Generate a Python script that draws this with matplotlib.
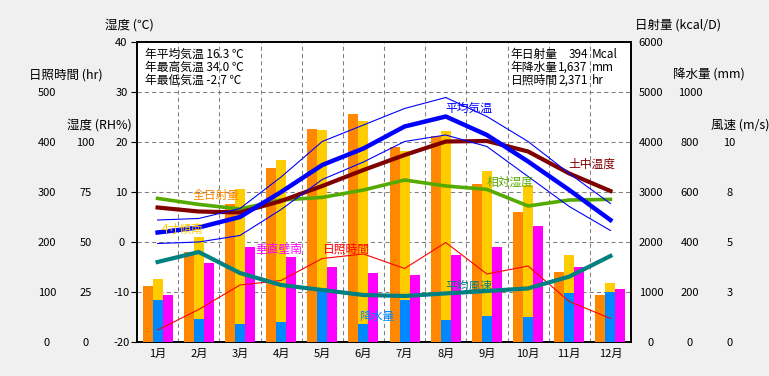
import matplotlib
matplotlib.use("Agg")
import matplotlib.pyplot as plt
import numpy as np

plt.rcParams['font.family'] = ['Noto Sans CJK JP', 'DejaVu Sans']

months = ["1月", "2月", "3月", "4月", "5月", "6月", "7月", "8月", "9月", "10月", "11月", "12月"]

# 日射量 (kcal/D)
solar_total = [1120, 1800, 2760, 3480, 4260, 4560, 3900, 4120, 3160, 2600, 1400, 940]   # 全日射量
solar_tilt = [1270, 2100, 3060, 3640, 4240, 4420, 3820, 4220, 3420, 3140, 1740, 1180]   # 4寸傾南
solar_wall = [940, 1580, 1900, 1700, 1500, 1380, 1340, 1740, 1900, 2320, 1500, 1060]     # 垂直壁南
# 降水量 (mm)
precip = [168, 92, 72, 80, 216, 72, 168, 88, 104, 100, 196, 200]
# 気温 (℃)
temp_avg = [1.9, 2.9, 5.0, 10.0, 15.4, 18.7, 23.1, 25.1, 21.4, 16.1, 10.4, 4.4]
temp_max = [4.4, 4.7, 6.7, 13.0, 20.1, 23.4, 26.7, 28.9, 25.1, 20.1, 13.7, 7.7]
temp_min = [-0.3, 0.0, 1.3, 6.5, 12.5, 16.0, 20.1, 21.4, 19.1, 13.1, 7.1, 2.3]
soil_temp = [6.9, 6.1, 5.9, 8.2, 11.2, 14.4, 17.4, 20.1, 20.2, 18.1, 13.7, 10.2]
# 相対湿度 (%)
humidity = [71.8, 68.8, 66.5, 71.0, 72.3, 76.0, 81.0, 78.0, 76.3, 68.0, 71.0, 71.3]
# 日照時間 (hr)
sunshine = [24, 65, 114, 123, 167, 176, 147, 199, 136, 152, 81, 47]
# 平均風速 (m/s)
wind = [4.0, 4.5, 3.45, 2.85, 2.6, 2.35, 2.3, 2.43, 2.55, 2.68, 3.27, 4.3]

temp_ticks = [-20, -10, 0, 10, 20, 30, 40]
hum_ticks = [0, 25, 50, 75, 100]
sun_ticks = [0, 100, 200, 300, 400, 500]
sol_ticks = [0, 1000, 2000, 3000, 4000, 5000, 6000]
pre_ticks = [0, 200, 400, 600, 800, 1000]
wind_ticks = [0, 2.5, 5, 7.5, 10]
wind_labels = ["0", "3", "5", "8", "10"]

W, H = 769, 376
fig = plt.figure(figsize=(W / 100, H / 100), dpi=100, facecolor="#F0F0F0")
ax = fig.add_axes([137 / W, 1 - 342 / H, 494 / W, 300 / H])
ax.set_facecolor("white")

x = np.arange(12) + 0.5
bw = 10 / 41.17

ax.set_xlim(0, 12)
ax.set_ylim(-20, 40)
ax.set_xticks(x, months, fontsize=8)
ax.set_xticks(np.arange(1, 12), minor=True)
ax.tick_params(axis="x", which="both", length=0, pad=5)
ax.set_yticks(temp_ticks, [str(t) for t in temp_ticks], fontsize=8)
ax.tick_params(axis="y", length=4, pad=7.2, width=0.8)
for t in ax.get_yticklabels():
    t.set_ha("center")
ax.grid(True, axis="y", color="#808080", lw=0.75, ls=(0, (4, 3)))
ax.grid(True, axis="x", which="minor", color="#808080", lw=0.75, ls=(0, (4, 3)))
for s in ax.spines.values():
    s.set_linewidth(1.4)
    s.set_zorder(10)


def twin(lo, hi):
    a = ax.twinx()
    a.set_ylim(lo, hi)
    a.set_xlim(0, 12)
    for s in a.spines.values():
        s.set_visible(False)
    a.set_yticks([])
    return a


def column(a, side, offset_px, ticks, labels):
    a.yaxis.set_ticks_position(side)
    a.spines[side].set_position(("outward", offset_px * 0.72))
    a.set_yticks(ticks, labels, fontsize=8)
    a.tick_params(axis="y", length=0, pad=0)
    for t in a.get_yticklabels():
        t.set_ha("center")


ax_sol = twin(0, 6000)
ax_sol.bar(x - bw, solar_total, bw, color="#FF8800", align="center")
ax_sol.bar(x, solar_tilt, bw, color="#FFCC00", align="center")
ax_sol.bar(x + bw, solar_wall, bw, color="#FF00FF", align="center")
column(ax_sol, "right", 20, sol_ticks, [str(t) for t in sol_ticks])

ax_pre = twin(0, 1200)
ax_pre.bar(x, precip, bw, color="#0088FF", align="center")
column(ax_pre, "right", 59, pre_ticks, [str(t) for t in pre_ticks])

ax_sun = twin(0, 600)
ax_sun.plot(x, sunshine, color="#FF0000", lw=0.8)
column(ax_sun, "left", 90, sun_ticks, [str(t) for t in sun_ticks])

ax_hum = twin(0, 150)
ax_hum.plot(x, humidity, color="#55AA00", lw=2.6)
column(ax_hum, "left", 51.5, hum_ticks, [str(t) for t in hum_ticks])

ax_wind = twin(0, 15)
ax_wind.plot(x, wind, color="#008080", lw=3)
column(ax_wind, "right", 98.5, wind_ticks, wind_labels)

ax_t = twin(-20, 40)
ax_t.plot(x, soil_temp, color="#800000", lw=3)
ax_t.plot(x, temp_max, color="#0000FF", lw=0.8)
ax_t.plot(x, temp_min, color="#0000FF", lw=0.8)
ax_t.plot(x, temp_avg, color="#0000FF", lw=3.2)

# series labels
fs = 8.5
ax_t.text(1.36, 9.2, "全日射量", color="#FF8800", fontsize=fs, va="center")
ax_t.text(0.61, 2.6, "4寸傾南", color="#FFCC00", fontsize=fs, va="center")
ax_t.text(2.87, -1.4, "垂直壁南", color="#FF00FF", fontsize=fs, va="center")
ax_t.text(4.52, -1.4, "日照時間", color="#FF0000", fontsize=fs, va="center")
ax_t.text(5.39, -14.8, "降水量", color="#0088FF", fontsize=fs, va="center")
ax_t.text(7.5, -8.8, "平均風速", color="#008080", fontsize=fs, va="center")
ax_t.text(8.5, 12.0, "相対湿度", color="#55AA00", fontsize=fs, va="center")
ax_t.text(7.5, 26.8, "平均気温", color="#0000FF", fontsize=fs, va="center")
ax_t.text(10.49, 15.6, "土中温度", color="#800000", fontsize=fs, va="center")

# yearly summary
info_left = ["年平均気温 16.3 ℃", "年最高気温 34.0 ℃", "年最低気温 -2.7 ℃"]
info_right = [("年日射量", "394", "Mcal"), ("年降水量", "1,637", "mm"), ("日照時間", "2,371", "hr")]
for i, s in enumerate(info_left):
    ax_t.text(0.19, 37.5 - 2.6 * i, s, fontsize=fs, va="center")
for i, (a, b, c) in enumerate(info_right):
    yy = 37.5 - 2.6 * i
    ax_t.text(9.08, yy, a, fontsize=fs, va="center")
    ax_t.text(10.95, yy, b, fontsize=fs, va="center", ha="right")
    ax_t.text(11.05, yy, c, fontsize=fs, va="center")

# axis titles
def ftext(px, py, s):
    fig.text(px / W, 1 - py / H, s, fontsize=9, va="center", ha="left")

ftext(105, 25, "湿度 (℃)")
ftext(29, 75, "日照時間 (hr)")
ftext(67, 125, "湿度 (RH%)")
ftext(635, 25, "日射量 (kcal/D)")
ftext(673, 75, "降水量 (mm)")
ftext(711, 125, "風速 (m/s)")

fig.savefig("out.png", dpi=100, facecolor=fig.get_facecolor())
